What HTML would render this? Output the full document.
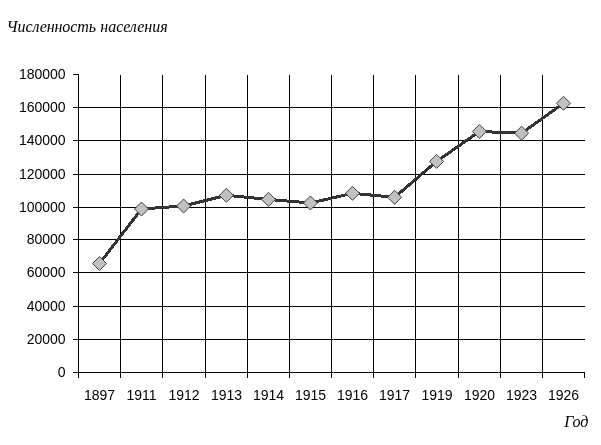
<!DOCTYPE html>
<html lang="ru"><head><meta charset="utf-8"><title>Численность населения</title>
<style>
html,body{margin:0;padding:0;background:#fff;}
body{width:601px;height:445px;overflow:hidden;}
svg{display:block;}
.ax{font-family:"Liberation Sans",Arial,sans-serif;font-size:14px;fill:#000;}
.ti{font-family:"Liberation Serif","Times New Roman",serif;font-style:italic;font-size:16px;fill:#000;}
</style></head><body>
<svg width="601" height="445" viewBox="0 0 601 445">
<rect width="601" height="445" fill="#fff"/>
<g fill="#000" shape-rendering="crispEdges">
<rect x="78" y="74" width="1" height="304"/>
<rect x="73" y="74" width="6" height="1"/>
<rect x="73" y="107" width="512" height="1"/>
<rect x="73" y="140" width="512" height="1"/>
<rect x="73" y="174" width="512" height="1"/>
<rect x="73" y="207" width="512" height="1"/>
<rect x="73" y="239" width="512" height="1"/>
<rect x="73" y="272" width="512" height="1"/>
<rect x="73" y="306" width="512" height="1"/>
<rect x="73" y="339" width="512" height="1"/>
<rect x="73" y="372" width="512" height="1"/>
<rect x="120" y="75" width="1" height="303"/>
<rect x="162" y="75" width="1" height="303"/>
<rect x="205" y="75" width="1" height="303"/>
<rect x="247" y="75" width="1" height="303"/>
<rect x="289" y="75" width="1" height="303"/>
<rect x="331" y="75" width="1" height="303"/>
<rect x="373" y="75" width="1" height="303"/>
<rect x="415" y="75" width="1" height="303"/>
<rect x="458" y="75" width="1" height="303"/>
<rect x="500" y="75" width="1" height="303"/>
<rect x="542" y="75" width="1" height="303"/>
<rect x="584" y="372" width="1" height="6"/>
</g>
<path d="M99.5,263.5 L141.5,209 L183.6,206 L226.4,195.3 L268.5,199.4 L310.4,203 L352.5,193.3 L394.6,197.3 L436.6,161.4 L479.4,131.5 L521.6,133.2 L563.5,103.3" fill="none" stroke="#333" stroke-width="3" stroke-linejoin="round" shape-rendering="crispEdges"/>
<path d="M92.5,263.5 L99.5,256.5 L106.5,263.5 L99.5,270.5 Z" fill="#c0c0c0" stroke="#404040" stroke-width="1"/>
<path d="M134.5,209 L141.5,202 L148.5,209 L141.5,216 Z" fill="#c0c0c0" stroke="#404040" stroke-width="1"/>
<path d="M176.6,206 L183.6,199 L190.6,206 L183.6,213 Z" fill="#c0c0c0" stroke="#404040" stroke-width="1"/>
<path d="M219.4,195.3 L226.4,188.3 L233.4,195.3 L226.4,202.3 Z" fill="#c0c0c0" stroke="#404040" stroke-width="1"/>
<path d="M261.5,199.4 L268.5,192.4 L275.5,199.4 L268.5,206.4 Z" fill="#c0c0c0" stroke="#404040" stroke-width="1"/>
<path d="M303.4,203 L310.4,196 L317.4,203 L310.4,210 Z" fill="#c0c0c0" stroke="#404040" stroke-width="1"/>
<path d="M345.5,193.3 L352.5,186.3 L359.5,193.3 L352.5,200.3 Z" fill="#c0c0c0" stroke="#404040" stroke-width="1"/>
<path d="M387.6,197.3 L394.6,190.3 L401.6,197.3 L394.6,204.3 Z" fill="#c0c0c0" stroke="#404040" stroke-width="1"/>
<path d="M429.6,161.4 L436.6,154.4 L443.6,161.4 L436.6,168.4 Z" fill="#c0c0c0" stroke="#404040" stroke-width="1"/>
<path d="M472.4,131.5 L479.4,124.5 L486.4,131.5 L479.4,138.5 Z" fill="#c0c0c0" stroke="#404040" stroke-width="1"/>
<path d="M514.6,133.2 L521.6,126.2 L528.6,133.2 L521.6,140.2 Z" fill="#c0c0c0" stroke="#404040" stroke-width="1"/>
<path d="M556.5,103.3 L563.5,96.3 L570.5,103.3 L563.5,110.3 Z" fill="#c0c0c0" stroke="#404040" stroke-width="1"/>
<g class="ax" text-anchor="end">
<text x="65.6" y="79.3">180000</text>
<text x="65.6" y="112.3">160000</text>
<text x="65.6" y="145.3">140000</text>
<text x="65.6" y="179.3">120000</text>
<text x="65.6" y="212.3">100000</text>
<text x="65.6" y="244.3">80000</text>
<text x="65.6" y="277.3">60000</text>
<text x="65.6" y="311.3">40000</text>
<text x="65.6" y="344.3">20000</text>
<text x="65.6" y="377.3">0</text>
</g>
<g class="ax" text-anchor="middle">
<text x="99.5" y="400">1897</text>
<text x="141.5" y="400">1911</text>
<text x="184.0" y="400">1912</text>
<text x="226.5" y="400">1913</text>
<text x="268.5" y="400">1914</text>
<text x="310.5" y="400">1915</text>
<text x="352.5" y="400">1916</text>
<text x="394.5" y="400">1917</text>
<text x="437.0" y="400">1919</text>
<text x="479.5" y="400">1920</text>
<text x="521.5" y="400">1923</text>
<text x="563.5" y="400">1926</text>
</g>
<text class="ti" y="32"><tspan x="6.6" textLength="89.4">Численность</tspan> <tspan x="100.3">населения</tspan></text>
<text class="ti" x="564.3" y="427">Год</text>
</svg>
</body></html>
